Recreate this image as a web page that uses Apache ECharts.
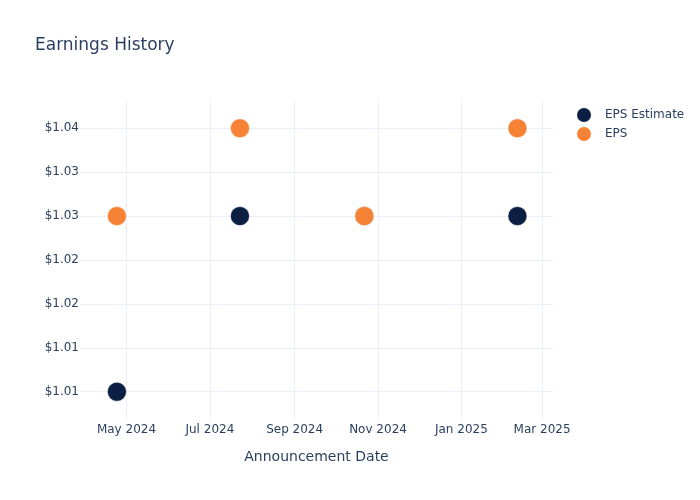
<!DOCTYPE html>
<html><head><meta charset="utf-8">
<script src="https://cdn.jsdelivr.net/npm/echarts@6/dist/echarts.min.js"></script>
<style>html,body{margin:0;padding:0;background:#fff}#c{width:700px;height:500px}</style>
</head><body><div id="c"></div>
<script>
const dates = ['2024-04-24', '2024-07-23', '2024-10-22', '2025-02-11'];
const epsEstimate = [1.01, 1.03, 1.03, 1.03];
const eps = [1.03, 1.04, 1.03, 1.04];
const xTicks = ['2024-05-01', '2024-07-01', '2024-09-01', '2024-11-01', '2025-01-01', '2025-03-01'];
const yTicks = [1.01, 1.015, 1.02, 1.025, 1.03, 1.035, 1.04];
const months = ['Jan','Feb','Mar','Apr','May','Jun','Jul','Aug','Sep','Oct','Nov','Dec'];

const ts = s => new Date(s + 'T00:00:00Z').getTime();
const font = 'DejaVu Sans, Verdana, sans-serif';
const txt = '#2a3f5f';
const grid = '#ebf0f8';

const chart = echarts.init(document.getElementById('c'), null, {renderer: 'canvas'});
chart.setOption({
  animation: false,
  backgroundColor: '#fff',
  textStyle: {fontFamily: font},
  title: {text: 'Earnings History', left: 30, top: 32,
    textStyle: {fontFamily: font, fontSize: 17, fontWeight: 'normal', color: txt}},
  legend: {
    left: 570, top: 101, orient: 'vertical', itemGap: 1,
    icon: 'circle', itemWidth: 16, itemHeight: 16,
    textStyle: {fontFamily: font, fontSize: 12, color: txt, padding: [0, 0, 0, 8]},
    data: ['EPS Estimate', 'EPS']
  },
  grid: {left: 80, right: 147, top: 100, bottom: 80, containLabel: false},
  xAxis: {
    type: 'value',
    min: ts('2024-03-28'), max: ts('2025-03-09'),
    name: 'Announcement Date', nameLocation: 'middle', nameGap: 30,
    nameTextStyle: {fontFamily: font, fontSize: 14, color: txt},
    axisLine: {show: false}, axisTick: {show: false, customValues: xTicks.map(ts)},
    axisLabel: {
      customValues: xTicks.map(ts), margin: 4, showMinLabel: true, showMaxLabel: true,
      fontFamily: font, fontSize: 12, color: txt, hideOverlap: false,
      formatter: v => { const d = new Date(v); return months[d.getUTCMonth()] + ' ' + d.getUTCFullYear(); }
    },
    splitLine: {show: true, lineStyle: {color: grid, width: 1}}
  },
  yAxis: {
    type: 'value', min: 1.00678, max: 1.04322,
    axisLine: {show: false}, axisTick: {show: false, customValues: yTicks},
    axisLabel: {customValues: yTicks, margin: 1, fontFamily: font, fontSize: 12, color: txt,
      formatter: v => '$' + v.toFixed(2)},
    splitLine: {show: true, lineStyle: {color: grid, width: 1}}
  },
  series: [
    {name: 'EPS Estimate', type: 'scatter', symbolSize: 19,
     itemStyle: {color: '#0b1f42', opacity: 1, borderColor: '#fff', borderWidth: 0.5},
     data: dates.map((d, i) => [ts(d), epsEstimate[i]])},
    {name: 'EPS', type: 'scatter', symbolSize: 19,
     itemStyle: {color: '#f58235', opacity: 1, borderColor: '#fff', borderWidth: 0.5},
     data: dates.map((d, i) => [ts(d), eps[i]])}
  ]
});
</script></body></html>
